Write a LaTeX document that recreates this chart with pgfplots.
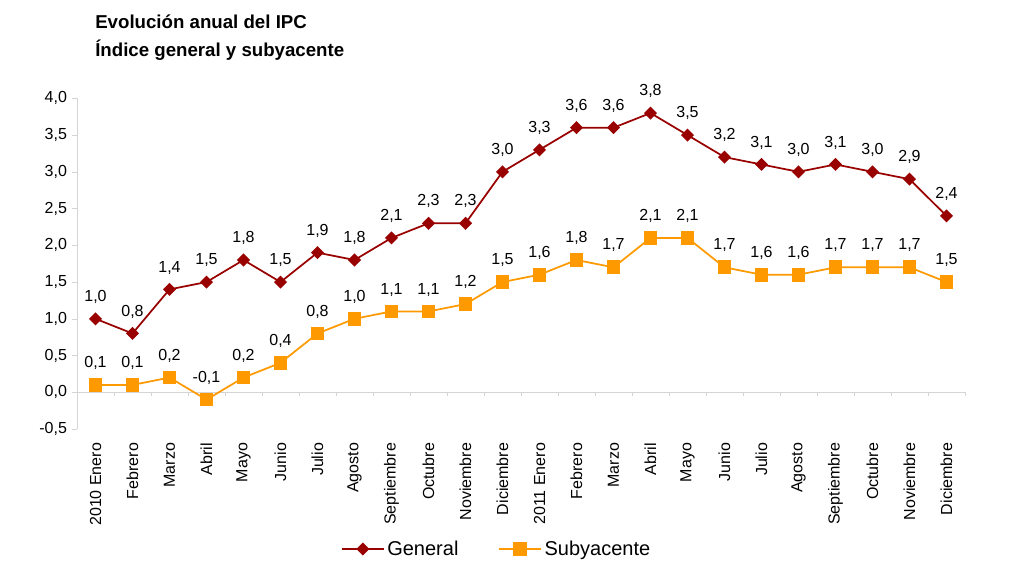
\documentclass[border=0pt]{standalone}
\usepackage{fontspec}
\setmainfont{Liberation Sans}
\usepackage{pgfplots}
\pgfplotsset{compat=1.18}
\definecolor{gen}{HTML}{990000}
\definecolor{sub}{HTML}{FF9900}
\definecolor{axgray}{HTML}{D4D4D4}
\newcommand{\lblfont}{\fontsize{12}{14}\selectfont}
\begin{document}
\begin{tikzpicture}[x=1pt,y=1pt]
\useasboundingbox (-57.75,-117.75) rectangle (710.25,321.75);
\node[anchor=west,font=\bfseries\fontsize{14}{16}\selectfont,inner sep=0] at (13.5,305.25) {Evolución anual del IPC};
\node[anchor=west,font=\bfseries\fontsize{14}{16}\selectfont,inner sep=0] at (13.5,284.25) {Índice general y subyacente};
\begin{axis}[at={(0,0)}, anchor=south west, scale only axis,
  width=666pt, height=248pt,
  xmin=-0.5, xmax=23.5, ymin=-0.5, ymax=4.0,
  axis y line*=left, axis x line*=bottom,
  x axis line style={draw=none},
  y axis line style={draw=axgray},
  ytick={-0.5,0,0.5,1,1.5,2,2.5,3,3.5,4},
  ytick style={draw=axgray}, tick align=outside, major tick length=4pt,
  xtick={0,...,23}, xtick style={draw=none},
  xticklabels={2010 Enero,Febrero,Marzo,Abril,Mayo,Junio,Julio,Agosto,Septiembre,Octubre,Noviembre,Diciembre,2011 Enero,Febrero,Marzo,Abril,Mayo,Junio,Julio,Agosto,Septiembre,Octubre,Noviembre,Diciembre},
  xticklabel style={rotate=90, anchor=east, font=\lblfont, xshift=-3pt},
  yticklabel style={font=\lblfont, /pgf/number format/.cd, fixed, fixed zerofill, precision=1, use comma, assume math mode=true},
  clip=false,
  nodes near coords={\pgfmathprintnumber[fixed,fixed zerofill,precision=1,use comma,assume math mode=true]{\pgfplotspointmeta}},
  every node near coord/.append style={font=\lblfont, text=black, anchor=south, yshift=7.5pt},
  legend style={at={(0.473,-0.363)}, anchor=center, draw=none, font=\fontsize{15}{17}\selectfont,
    /tikz/every even column/.append style={column sep=28pt}},
  legend columns=2,
  legend image code/.code={\draw[mark repeat=2,mark phase=2,#1] plot coordinates {(0cm,0cm) (0.55cm,0cm) (1.1cm,0cm)};},
]
\draw[axgray] (axis cs:-0.5,0) -- (axis cs:23.5,0);
\pgfplotsinvokeforeach{-0.5,0.5,...,23.5}{\draw[axgray] (axis cs:#1,0) -- (axis cs:#1,-0.055);}
\addplot[color=gen, line width=1.3pt, mark=square*, mark size=2.8pt, mark options={rotate=45, fill=gen, draw=gen}] coordinates {
(0,1.0) (1,0.8) (2,1.4) (3,1.5) (4,1.8) (5,1.5) (6,1.9) (7,1.8) (8,2.1) (9,2.3) (10,2.3) (11,3.0)
(12,3.3) (13,3.6) (14,3.6) (15,3.8) (16,3.5) (17,3.2) (18,3.1) (19,3.0) (20,3.1) (21,3.0) (22,2.9) (23,2.4)};
\addlegendentry{General}
\addplot[color=sub, line width=1.3pt, mark=square*, mark size=4.5pt, mark options={fill=sub, draw=sub}] coordinates {
(0,0.1) (1,0.1) (2,0.2) (3,-0.1) (4,0.2) (5,0.4) (6,0.8) (7,1.0) (8,1.1) (9,1.1) (10,1.2) (11,1.5)
(12,1.6) (13,1.8) (14,1.7) (15,2.1) (16,2.1) (17,1.7) (18,1.6) (19,1.6) (20,1.7) (21,1.7) (22,1.7) (23,1.5)};
\addlegendentry{Subyacente}
\end{axis}
\end{tikzpicture}
\end{document}
